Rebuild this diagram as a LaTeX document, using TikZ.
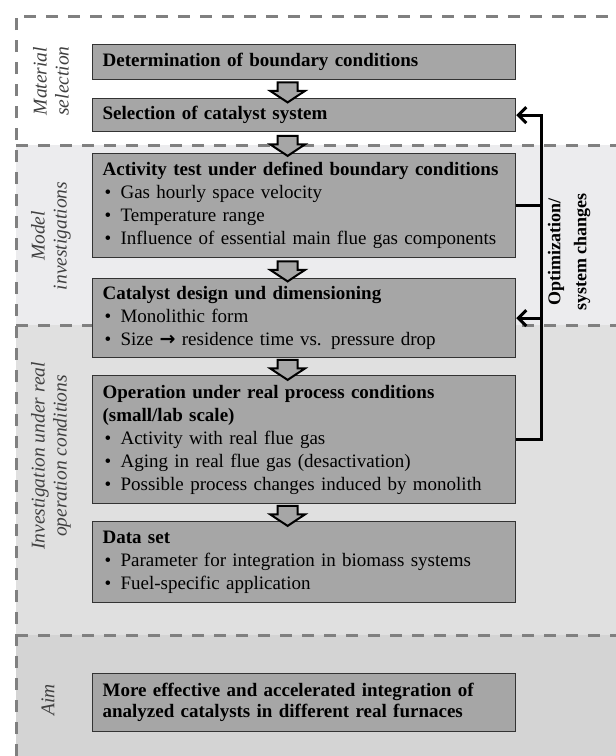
\documentclass[tikz,border=0pt]{standalone}
\usepackage{fontspec}
\setmainfont{Liberation Serif}
\newfontfamily\arrowfont{DejaVu Sans}
\usetikzlibrary{arrows.meta,shapes.arrows,calc}
\definecolor{bandtwo}{RGB}{236,236,238}
\definecolor{bandthree}{RGB}{224,224,224}
\definecolor{bandfour}{RGB}{212,212,212}
\definecolor{boxgray}{RGB}{166,166,166}
\definecolor{sepgray}{RGB}{128,128,128}
\definecolor{labgray}{RGB}{64,64,64}
\newcommand{\bul}{\makebox[18pt][l]{\hspace{2pt}\textbullet}}
\newcommand{\toarrow}{{\arrowfont\bfseries →}}

\begin{document}
\begin{tikzpicture}[x=1pt,y=-1pt,
        stagebox/.style={draw=black!80,line width=1.2pt,fill=boxgray,anchor=north west,
            minimum width=423pt,text width=403pt,inner xsep=10pt,inner ysep=0pt,align=left,
            font=\fontsize{19}{23}\selectfont},
        flowarrow/.style={single arrow,draw=black,line width=2pt,fill=boxgray,rotate=-90,
            inner xsep=0pt,inner ysep=9pt,minimum height=20pt,minimum width=33pt,
            single arrow head extend=7.5pt,single arrow tip angle=113},
        seprule/.style={sepgray,line width=3pt,dash pattern=on 12pt off 10pt},
        phase/.style={rotate=90,align=center,text=labgray,
            font=\itshape\fontsize{19.5}{22}\selectfont},
        fbline/.style={line width=3pt},
        fbarrow/.style={line width=3pt,-{Straight Barb[length=8pt,width=16pt]}}]
        \useasboundingbox (0,0) rectangle (616,756);
        \fill[white] (0,0) rectangle (616,756);
        \fill[bandtwo] (16,145) rectangle (616,325);
        \fill[bandthree] (16,325) rectangle (616,635);
        \fill[bandfour] (16,635) rectangle (616,756);
        \draw[seprule] (16,756) -- (16,16) -- (616,16);
        \draw[seprule] (16,145) -- (616,145);
        \draw[seprule] (16,325) -- (616,325);
        \draw[seprule] (16,635) -- (616,635);

        \node[phase] (mat) at (51,81) {Material\\selection};
        \node[phase] (mod) at (51,236) {Model\\investigations};
        \node[phase] (inv) at (51,456) {Investigation under real\\operation conditions};
        \node[phase] (aim) at (48,700) {Aim};

        \node[stagebox,minimum height=35pt] (b1) at (92,44) {\textbf{Determination of boundary conditions}};
        \node[stagebox,minimum height=33pt] (b2) at (92,98) {\textbf{Selection of catalyst system}};
        \node[stagebox,minimum height=104pt] (b3) at (92,153) {\textbf{Activity test under defined boundary conditions}\\
            \bul Gas hourly space velocity\\
            \bul Temperature range\\
            \bul Influence of essential main flue gas components};
        \node[stagebox,minimum height=79pt] (b4) at (92,278) {\textbf{Catalyst design und dimensioning}\\
            \bul Monolithic form\\
            \bul Size \toarrow{} residence time vs. pressure drop};
        \node[stagebox,minimum height=128pt] (b5) at (92,375) {\textbf{Operation under real process conditions}\\
            \textbf{(small/lab scale)}\\
            \bul Activity with real flue gas\\
            \bul Aging in real flue gas (desactivation)\\
            \bul Possible process changes induced by monolith};
        \node[stagebox,minimum height=81pt] (b6) at (92,521) {\textbf{Data set}\\
            \bul Parameter for integration in biomass systems\\
            \bul Fuel-specific application};
        \node[stagebox,minimum height=58pt,font=\fontsize{19}{21}\selectfont] (b7) at (92,673) {\textbf{More effective and accelerated integration of}\\
            \textbf{analyzed catalysts in different real furnaces}};

        \node[flowarrow] (a1) at ($(b1.south)!0.5!(b2.north)+(-16.5,0)$) {};
        \node[flowarrow] (a2) at ($(b2.south)!0.5!(b3.north)+(-16.5,0)$) {};
        \node[flowarrow] (a3) at ($(b3.south)!0.5!(b4.north)+(-16.5,0)$) {};
        \node[flowarrow] (a4) at ($(b4.south)!0.5!(b5.north)+(-16.5,0)$) {};
        \node[flowarrow] (a5) at ($(b5.south)!0.5!(b6.north)+(-16.5,0)$) {};

        \draw[fbarrow] (b5.east) -- ++(25,0) |- (b2.east);
        \draw[fbline] (b3.east) -- ++(25,0);
        \draw[fbarrow] ([xshift=25pt]b4.east) -- (b4.east);
        \node[rotate=90,align=center,font=\bfseries\fontsize{18}{26}\selectfont] (opt) at (569,252) {Optimization/\\system changes};
\end{tikzpicture}
\end{document}
